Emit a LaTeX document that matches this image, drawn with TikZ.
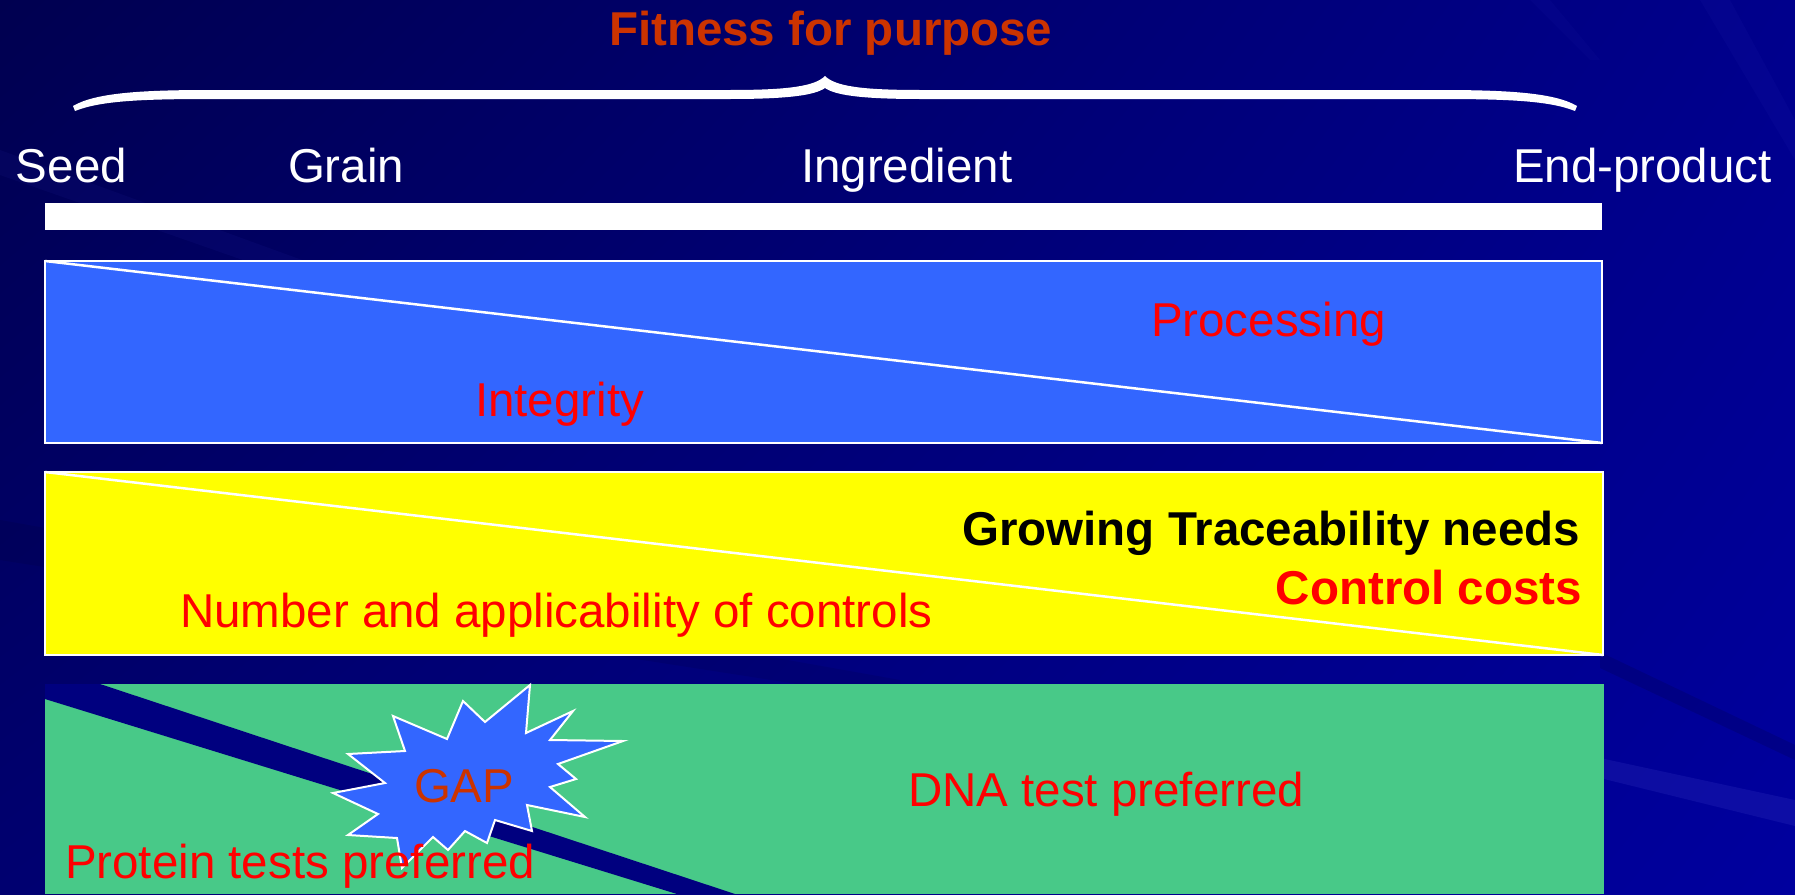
\documentclass[tikz,border=0pt]{standalone}
\usepackage{fontspec}
\usetikzlibrary{shadings}
\setmainfont{Liberation Sans}
\newcommand\bigtxt{\fontsize{47.5}{57}\selectfont}
\definecolor{bgA}{RGB}{0,0,80}
\definecolor{bgB}{RGB}{0,0,140}
\definecolor{bgC}{RGB}{0,0,112}
\definecolor{bgD}{RGB}{0,0,158}
\definecolor{navyband}{RGB}{0,0,127}
\definecolor{boxblue}{RGB}{51,102,255}
\definecolor{boxgreen}{RGB}{72,201,136}
\definecolor{boxyellow}{RGB}{255,255,0}
\definecolor{titleorange}{RGB}{204,51,0}
\definecolor{streak}{RGB}{60,60,200}
\tikzset{
  lbl/.style={font=\bigtxt, inner sep=0pt, outer sep=0pt},
  band/.style={draw=white, line width=2pt, inner sep=0pt, outer sep=0pt},
  diag/.style={draw=white, line width=2.5pt},
}
\begin{document}
\begin{tikzpicture}[x=1pt,y=-1pt]
\useasboundingbox (0,0) rectangle (1795,894);
% background
\shade[upper left=bgA, upper right=bgB, lower left=bgC, lower right=bgD] (0,0) rectangle (1795,894);
% subtle streaks
\fill[streak, opacity=0.08] (0,150) -- (0,175) -- (700,420) -- (700,405) -- cycle;
\fill[black, opacity=0.08] (0,520) -- (0,560) -- (900,700) -- (900,680) -- cycle;
\fill[streak, opacity=0.22] (1600,758) -- (1795,800) -- (1795,826) -- (1600,778) -- cycle;
\fill[black, opacity=0.12] (1600,652) -- (1795,745) -- (1795,760) -- (1600,668) -- cycle;
\fill[streak, opacity=0.07] (1700,0) -- (1730,0) -- (1795,120) -- (1795,160) -- cycle;
\fill[streak, opacity=0.06] (1530,0) -- (1550,0) -- (1600,60) -- (1590,60) -- cycle;
% brace
\fill[white] (73,106) .. controls (95,93) and (140,90) .. (210,90) -- (730,90)
  .. controls (790,90) and (815,86) .. (825,76) .. controls (835,86) and (860,90) .. (920,90)
  -- (1440,90) .. controls (1510,90) and (1555,93) .. (1577,106)
  -- (1575,111) .. controls (1550,101) and (1510,99) .. (1440,99) -- (920,99)
  .. controls (860,99) and (835,95) .. (825,88) .. controls (815,95) and (790,99) .. (730,99)
  -- (210,99) .. controls (140,99) and (100,101) .. (75,111) -- cycle;
% title
\node[lbl, anchor=base west, text=titleorange, font=\bigtxt\bfseries] (title) at (609,45) {Fitness for purpose};
% stage labels
\node[lbl, anchor=base west, text=white] (seed) at (16,182) {Seed};
\node[lbl, anchor=base west, text=white] (grain) at (288,182) {Grain};
\node[lbl, anchor=base west, text=white] (ingr) at (801,182) {Ingredient};
\node[lbl, anchor=base west, text=white] (endp) at (1513,182) {End-product};
% white bar
\node[fill=white, inner sep=0pt, outer sep=0pt, minimum width=1557pt, minimum height=27pt] (bar) at (823.5,216.5) {};
% blue box
\node[band, fill=boxblue, minimum width=1557pt, minimum height=182pt] (bluebox) at (823.5,352) {};
\draw[diag] (bluebox.north west) -- (bluebox.south east);
\node[lbl, anchor=base west, text=red] (proc) at (1151,336) {Processing};
\node[lbl, anchor=base west, text=red] (integ) at (475,416) {Integrity};
% yellow box
\node[band, fill=boxyellow, minimum width=1558pt, minimum height=183pt] (yelbox) at (824,563.5) {};
\draw[diag] (yelbox.north west) -- (yelbox.south east);
\node[lbl, anchor=base east, text=black, font=\bigtxt\bfseries] (grow) at (1580,545) {Growing Traceability needs};
\node[lbl, anchor=base east, text=red, font=\bigtxt\bfseries] (cost) at (1582,604) {Control costs};
\node[lbl, anchor=base west, text=red] (numb) at (180,627) {Number and applicability of controls};
% green box
\node[fill=boxgreen, inner sep=0pt, outer sep=0pt, minimum width=1559pt, minimum height=210pt] (grnbox) at (824.5,789) {};
\fill[navyband] (45,684) -- (100,684) -- (735,894) -- (677,894) -- (45,699) -- cycle;
% GAP star
\filldraw[fill=boxblue, draw=white, line width=2pt, line join=miter]
  (530,685) -- (526,733) -- (573,711) -- (550,740) -- (623,741) -- (558,764)
  -- (576,779) -- (550,787) -- (585,817) -- (527,805) -- (532,831) -- (495,820)
  -- (487,843) -- (465,831) -- (448,850) -- (433,837) -- (402,868) -- (397,838)
  -- (348,835) -- (378,814) -- (333,793) -- (385,783) -- (348,754) -- (405,751)
  -- (393,716) -- (447,739) -- (463,701) -- (485,722) -- cycle;
\node[lbl, anchor=base west, text=titleorange] (gap) at (414,802) {GAP};
\node[lbl, anchor=base west, text=red] (dna) at (908,806) {DNA test preferred};
\node[lbl, anchor=base west, text=red] (prot) at (65,878) {Protein tests preferred};
\end{tikzpicture}
\end{document}
